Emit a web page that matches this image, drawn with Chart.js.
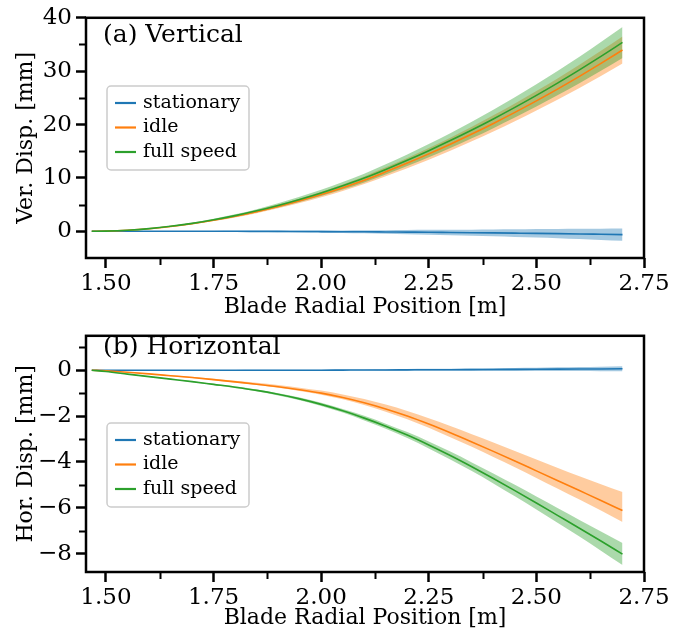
<!DOCTYPE html>
<html>
<head>
<meta charset="utf-8">
<script src="https://cdn.jsdelivr.net/npm/chart.js@4.4.0/dist/chart.umd.min.js"></script>
<style>
body { margin: 0; background: #fff; }
#wrap { position: relative; width: 682px; height: 635px; }
canvas { position: absolute; left: 0; }
</style>
</head>
<body>
<div id="wrap">
<canvas id="vert" width="682" height="318" style="top:0"></canvas>
<canvas id="hor" width="682" height="317" style="top:318px"></canvas>
</div>
<script>
// blade radial positions [m]
var radius = [1.467, 1.50, 1.55, 1.60, 1.65, 1.70, 1.75, 1.80, 1.85, 1.90, 1.95, 2.00, 2.05, 2.10, 2.15, 2.20, 2.25, 2.30, 2.35, 2.40, 2.45, 2.50, 2.55, 2.60, 2.65, 2.70];

var seriesNames = ["stationary", "idle", "full speed"];
var seriesColors = ["#1f77b4", "#ff7f0e", "#2ca02c"];
var bandColors = ["rgba(31,119,180,0.4)", "rgba(255,127,14,0.4)", "rgba(44,160,44,0.4)"];

// (a) vertical displacement [mm], mean and band
var verStationary = [0, 0, 0, 0, 0, 0, 0, 0, -0.01, -0.02, -0.03, -0.05, -0.07, -0.09, -0.12, -0.15, -0.18, -0.22, -0.26, -0.30, -0.34, -0.38, -0.43, -0.49, -0.56, -0.63];
var verStationaryHi = [0, 0.01, 0.02, 0.03, 0.05, 0.06, 0.08, 0.10, 0.11, 0.12, 0.14, 0.15, 0.17, 0.19, 0.21, 0.24, 0.27, 0.29, 0.31, 0.34, 0.37, 0.42, 0.45, 0.48, 0.50, 0.52];
var verStationaryLo = [0, -0.01, -0.02, -0.03, -0.05, -0.06, -0.08, -0.10, -0.13, -0.16, -0.20, -0.25, -0.31, -0.37, -0.45, -0.54, -0.63, -0.73, -0.83, -0.94, -1.05, -1.18, -1.31, -1.46, -1.62, -1.78];
var verIdle = [0, 0.04, 0.20, 0.49, 0.90, 1.43, 2.07, 2.82, 3.68, 4.65, 5.72, 6.89, 8.18, 9.57, 11.14, 12.78, 14.51, 16.32, 18.22, 20.21, 22.28, 24.44, 26.69, 29.03, 31.46, 33.97];
var verIdleHi = [0, 0.04, 0.22, 0.53, 0.97, 1.54, 2.23, 3.03, 3.96, 5.00, 6.15, 7.41, 8.79, 10.29, 11.98, 13.74, 15.60, 17.54, 19.59, 21.73, 23.95, 26.27, 28.69, 31.21, 33.82, 36.52];
var verIdleLo = [0, 0.04, 0.19, 0.45, 0.83, 1.32, 1.91, 2.61, 3.40, 4.30, 5.29, 6.37, 7.57, 8.85, 10.30, 11.82, 13.42, 15.10, 16.85, 18.69, 20.61, 22.61, 24.69, 26.85, 29.10, 31.42];
var verFull = [0, 0.04, 0.21, 0.51, 0.94, 1.49, 2.16, 2.94, 3.84, 4.85, 5.97, 7.19, 8.53, 9.98, 11.60, 13.31, 15.11, 17.00, 18.98, 21.05, 23.21, 25.46, 27.80, 30.24, 32.77, 35.39];
var verFullHi = [0, 0.04, 0.23, 0.55, 1.02, 1.61, 2.34, 3.18, 4.15, 5.25, 6.46, 7.78, 9.23, 10.80, 12.55, 14.40, 16.35, 18.39, 20.54, 22.78, 25.11, 27.55, 30.08, 32.72, 35.46, 38.29];
var verFullLo = [0, 0.04, 0.19, 0.47, 0.86, 1.37, 1.98, 2.70, 3.53, 4.45, 5.48, 6.60, 7.83, 9.16, 10.65, 12.22, 13.87, 15.61, 17.42, 19.32, 21.31, 23.37, 25.52, 27.76, 30.08, 32.49];

// (b) horizontal displacement [mm], mean and band
var horStationary = [0, 0, 0, 0, 0, 0, 0, 0, 0, 0, 0, 0, 0.005, 0.01, 0.01, 0.015, 0.02, 0.02, 0.025, 0.03, 0.035, 0.04, 0.045, 0.05, 0.055, 0.06];
var horStationaryHi = [0, 0, 0, 0.005, 0.005, 0.01, 0.01, 0.01, 0.015, 0.015, 0.02, 0.02, 0.025, 0.035, 0.04, 0.05, 0.06, 0.065, 0.075, 0.09, 0.10, 0.11, 0.125, 0.14, 0.155, 0.17];
var horStationaryLo = [0, 0, 0, -0.005, -0.005, -0.01, -0.01, -0.01, -0.015, -0.015, -0.02, -0.02, -0.015, -0.015, -0.02, -0.02, -0.02, -0.025, -0.025, -0.03, -0.03, -0.03, -0.035, -0.04, -0.045, -0.05];
var horIdle = [0, -0.03, -0.09, -0.16, -0.24, -0.32, -0.41, -0.51, -0.61, -0.72, -0.85, -1.00, -1.19, -1.42, -1.69, -2.00, -2.35, -2.73, -3.13, -3.54, -3.96, -4.39, -4.82, -5.25, -5.68, -6.12];
var horIdleHi = [0, -0.02, -0.08, -0.14, -0.22, -0.29, -0.37, -0.46, -0.55, -0.65, -0.76, -0.89, -1.06, -1.26, -1.50, -1.78, -2.09, -2.43, -2.79, -3.15, -3.52, -3.89, -4.26, -4.62, -4.97, -5.31];
var horIdleLo = [0, -0.04, -0.10, -0.17, -0.26, -0.34, -0.44, -0.54, -0.65, -0.77, -0.91, -1.07, -1.27, -1.52, -1.81, -2.14, -2.51, -2.92, -3.34, -3.78, -4.23, -4.70, -5.17, -5.64, -6.12, -6.62];
var horFull = [0, -0.06, -0.17, -0.28, -0.39, -0.50, -0.62, -0.74, -0.88, -1.05, -1.25, -1.49, -1.77, -2.09, -2.44, -2.83, -3.26, -3.72, -4.21, -4.72, -5.25, -5.79, -6.34, -6.89, -7.45, -8.02];
var horFullHi = [0, -0.05, -0.16, -0.26, -0.37, -0.48, -0.59, -0.70, -0.84, -1.00, -1.19, -1.42, -1.69, -1.99, -2.33, -2.70, -3.11, -3.55, -4.02, -4.50, -5.00, -5.51, -6.02, -6.53, -7.03, -7.54];
var horFullLo = [0, -0.07, -0.18, -0.30, -0.41, -0.53, -0.65, -0.78, -0.92, -1.10, -1.31, -1.56, -1.85, -2.19, -2.55, -2.96, -3.41, -3.89, -4.40, -4.94, -5.50, -6.07, -6.66, -7.25, -7.87, -8.50];

// tick positions
var xTicks = [1.50, 1.75, 2.00, 2.25, 2.50, 2.75];
var xMinor = [1.625, 1.875, 2.125, 2.375, 2.625];
var verTicks = [0, 10, 20, 30, 40];
var verMinor = [5, 15, 25, 35];
var horTicks = [-8, -6, -4, -2, 0];
var horMinor = [-7, -5, -3, -1, 1];

var serif = "'DejaVu Serif', serif";

function pts(ys) {
  return radius.map(function(r, i) { return {x: r, y: ys[i]}; });
}

function buildSets(means, his, los) {
  var sets = [];
  for (var i = 0; i < 3; i++) {
    sets.push({label: seriesNames[i], data: pts(means[i]), borderColor: seriesColors[i],
      borderWidth: 1.6, pointRadius: 0, fill: false, order: 2 - i, cubicInterpolationMode: 'monotone'});
  }
  for (var j = 0; j < 3; j++) {
    sets.push({label: 'band', data: pts(his[j]), borderWidth: 0, pointRadius: 0,
      backgroundColor: bandColors[j], fill: '+1', order: 12 - j, cubicInterpolationMode: 'monotone'});
    sets.push({label: 'band', data: pts(los[j]), borderWidth: 0, pointRadius: 0,
      fill: false, order: 12 - j, cubicInterpolationMode: 'monotone'});
  }
  return sets;
}

function fmt(v) {
  return v < 0 ? '\u2212' + Math.abs(v) : String(v);
}

var panelPlugin = {
  id: 'panel',
  afterDraw: function(chart, args, o) {
    var ctx = chart.ctx;
    var a = chart.chartArea;
    var xs = chart.scales.x, ys = chart.scales.y;
    ctx.save();
    // minor ticks
    ctx.strokeStyle = '#000';
    ctx.lineWidth = 2;
    ctx.beginPath();
    xMinor.forEach(function(v) {
      var px = Math.round(xs.getPixelForValue(v)) + 0.5;
      ctx.moveTo(px, a.bottom); ctx.lineTo(px, a.bottom + 7);
    });
    o.yMinor.forEach(function(v) {
      var py = Math.round(ys.getPixelForValue(v)) + 0.5;
      ctx.moveTo(a.left, py); ctx.lineTo(a.left - 7, py);
    });
    ctx.stroke();
    // frame
    ctx.lineWidth = 2.5;
    ctx.strokeRect(a.left, a.top, a.right - a.left, a.bottom - a.top);
    // panel label
    ctx.fillStyle = '#000';
    ctx.font = "25px " + serif;
    ctx.textBaseline = 'middle';
    ctx.textAlign = 'left';
    ctx.fillText(o.label, 103, o.labelY);
    // legend
    var lx = 107, ly = o.legendTop, lw = 142, lh = 84, r = 4;
    ctx.beginPath();
    ctx.moveTo(lx + r, ly);
    ctx.arcTo(lx + lw, ly, lx + lw, ly + lh, r);
    ctx.arcTo(lx + lw, ly + lh, lx, ly + lh, r);
    ctx.arcTo(lx, ly + lh, lx, ly, r);
    ctx.arcTo(lx, ly, lx + lw, ly, r);
    ctx.closePath();
    ctx.fillStyle = 'rgba(255,255,255,0.8)';
    ctx.fill();
    ctx.strokeStyle = '#cccccc';
    ctx.lineWidth = 1.5;
    ctx.stroke();
    ctx.font = "19px " + serif;
    for (var i = 0; i < 3; i++) {
      var cy = ly + 17 + i * 24.5;
      ctx.strokeStyle = seriesColors[i];
      ctx.lineWidth = 2.2;
      ctx.beginPath();
      ctx.moveTo(115, cy); ctx.lineTo(136, cy);
      ctx.stroke();
      ctx.fillStyle = '#000';
      ctx.fillText(seriesNames[i], 143, cy);
    }
    ctx.restore();
  }
};

function makeChart(id, sets, p) {
  return new Chart(document.getElementById(id), {
    type: 'line',
    data: {datasets: sets},
    plugins: [panelPlugin],
    options: {
      responsive: false,
      animation: false,
      devicePixelRatio: 1,
      layout: {padding: {top: p.padTop, right: 38, left: 0, bottom: 0}},
      plugins: {
        legend: {display: false},
        tooltip: {enabled: false},
        panel: {label: p.label, labelY: p.labelY, legendTop: p.legendTop, yMinor: p.yMinor}
      },
      scales: {
        x: {
          type: 'linear', min: 1.4536, max: 2.75,
          afterBuildTicks: function(s) { s.ticks = xTicks.map(function(v) { return {value: v}; }); },
          ticks: {font: {family: serif, size: 23}, color: '#000', padding: 2, maxRotation: 0, autoSkip: false,
            callback: function(v) { return v.toFixed(2); }},
          grid: {drawOnChartArea: false, drawTicks: true, tickLength: 10, tickWidth: 2.5, tickColor: '#000'},
          border: {display: false},
          title: {display: true, text: 'Blade Radial Position [m]', color: '#000',
            font: {family: serif, size: 22, lineHeight: 1.0}, padding: {top: 0, bottom: p.xTitlePad}},
          afterFit: function(s) { s.height = p.xHeight; }
        },
        y: {
          type: 'linear', min: p.yMin, max: p.yMax,
          afterBuildTicks: function(s) { s.ticks = p.yTicks.map(function(v) { return {value: v}; }); },
          ticks: {font: {family: serif, size: 23}, color: '#000', padding: 4, autoSkip: false, callback: fmt},
          grid: {drawOnChartArea: false, drawTicks: true, tickLength: 10, tickWidth: 2.5, tickColor: '#000'},
          border: {display: false},
          title: {display: true, text: p.yTitle, color: '#000',
            font: {family: serif, size: 22, lineHeight: 1.0}, padding: {top: 15, bottom: 0}},
          afterFit: function(s) { s.width = 86; }
        }
      }
    }
  });
}

makeChart('vert',
  buildSets([verStationary, verIdle, verFull], [verStationaryHi, verIdleHi, verFullHi], [verStationaryLo, verIdleLo, verFullLo]),
  {label: '(a) Vertical', labelY: 35, legendTop: 86, yMinor: verMinor, yTicks: verTicks, yMin: -5, yMax: 40,
   yTitle: 'Ver. Disp. [mm]', padTop: 16, xHeight: 60, xTitlePad: 0});

makeChart('hor',
  buildSets([horStationary, horIdle, horFull], [horStationaryHi, horIdleHi, horFullHi], [horStationaryLo, horIdleLo, horFullLo]),
  {label: '(b) Horizontal', labelY: 29, legendTop: 105, yMinor: horMinor, yTicks: horTicks, yMin: -8.8, yMax: 1.5,
   yTitle: 'Hor. Disp. [mm]', padTop: 10, xHeight: 63, xTitlePad: 6});
</script>
</body>
</html>
